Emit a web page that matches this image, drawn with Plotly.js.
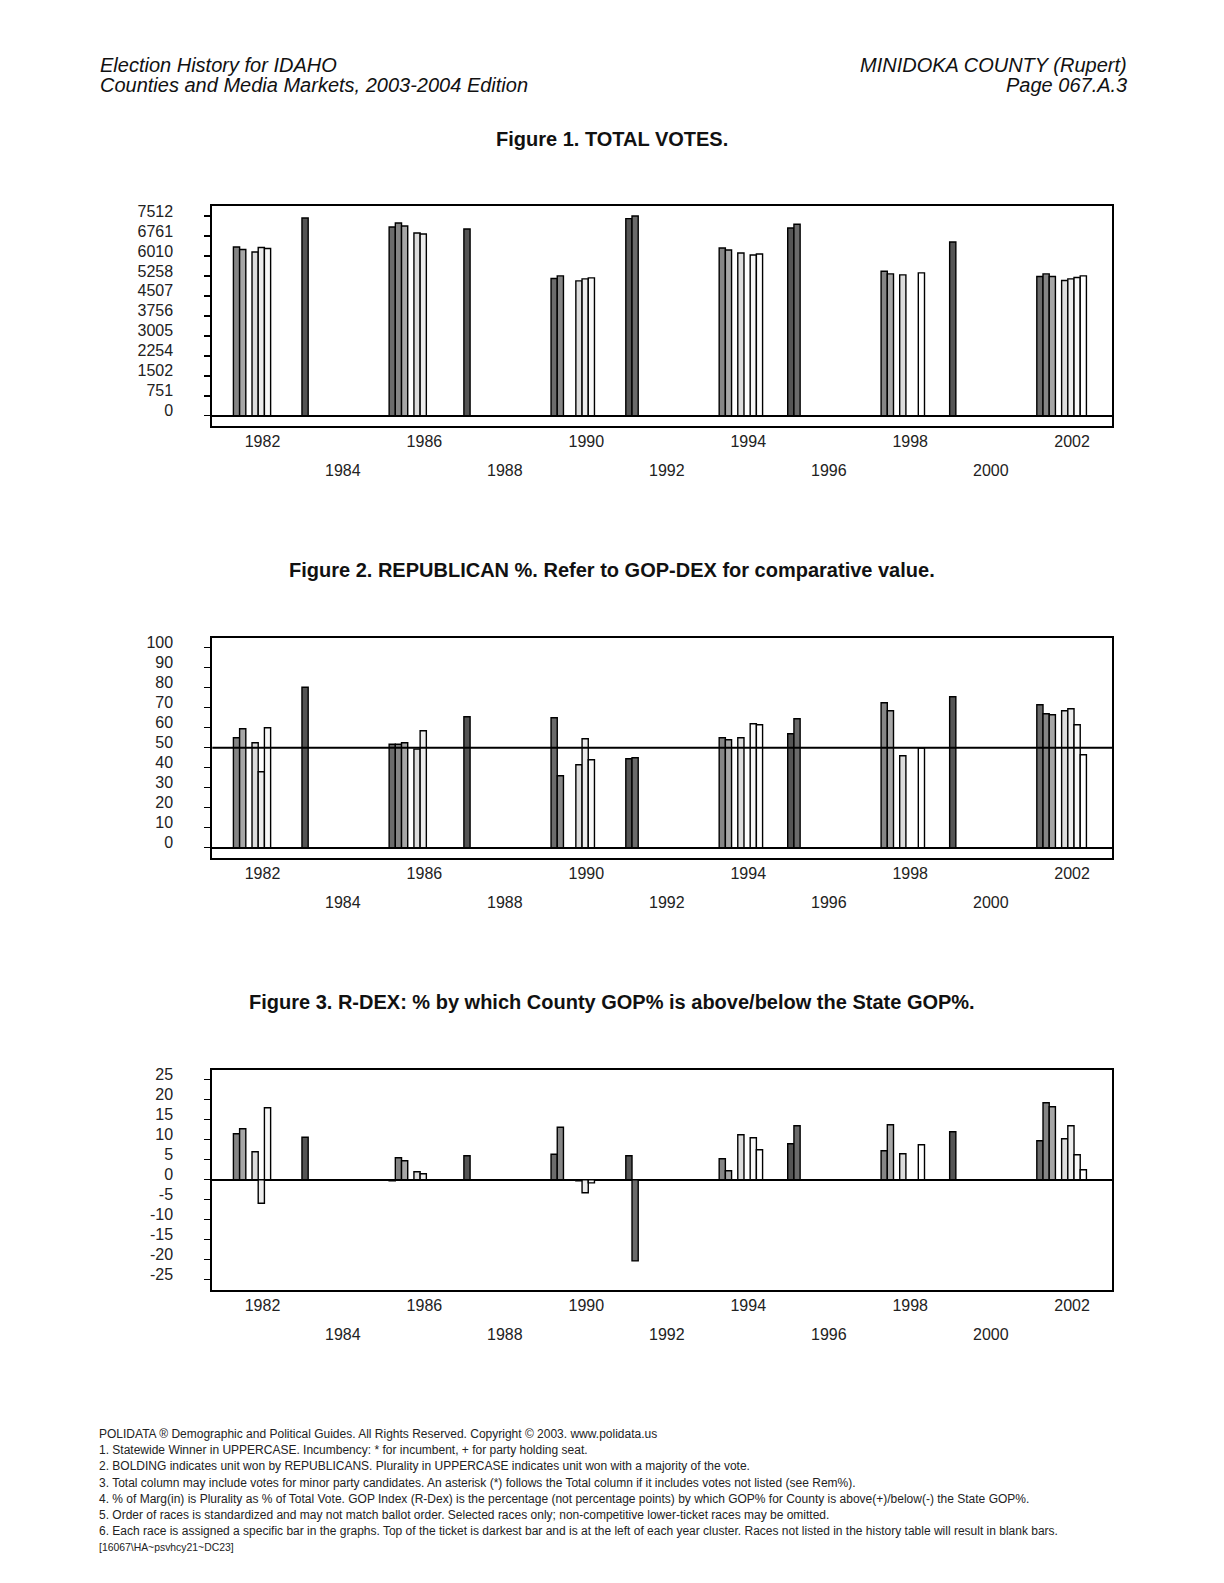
<!DOCTYPE html>
<html><head><meta charset="utf-8">
<script src="https://cdn.plot.ly/plotly-3.0.1.min.js"></script>
<style>html,body{margin:0;padding:0;background:#fff}#chart{width:1224px;height:1583px}</style>
</head><body><div id="chart"></div>
<script>
// ---------- DATA ----------
const years = [1982,1984,1986,1988,1990,1992,1994,1996,1998,2000,2002];
const topRowYears = [1982,1986,1990,1994,1998,2002];
const bottomRowYears = [1984,1988,1992,1996,2000];
const votesTicks = [0,751,1502,2254,3005,3756,4507,5258,6010,6761,7512];
const gopTicks = [0,10,20,30,40,50,60,70,80,90,100];
const rdexTicks = [-25,-20,-15,-10,-5,0,5,10,15,20,25];

// Figure 1: TOTAL VOTES, one array per race slot (darkest = slot 0), aligned to years
const votesSlot0 = [null,7437,null,7024,null,7414,null,7061,null,6535,null];
const votesSlot1 = [null,null,7099,null,5160,7512,null,7200,null,null,5236];
const votesSlot2 = [6348,null,7249,null,5258,null,6310,null,5435,null,5334];
const votesSlot3 = [6250,null,7136,null,null,null,6235,null,5334,null,5236];
const votesSlot4 = [null,null,null,null,null,null,null,null,null,null,null];
const votesSlot5 = [6160,null,6873,null,5071,null,6122,null,5296,null,5086];
const votesSlot6 = [6325,null,6836,null,5146,null,null,null,null,null,5146];
const votesSlot7 = [6287,null,null,null,5183,null,6047,null,null,null,5198];
const votesSlot8 = [null,null,null,null,null,null,6085,null,5371,null,5258];

// Figure 2: REPUBLICAN %
const gopSlot0 = [null,80.2,null,65.5,null,44.5,null,57.0,null,75.5,null];
const gopSlot1 = [null,null,51.7,null,65.0,45.0,null,64.5,null,null,71.5];
const gopSlot2 = [55.0,null,51.7,null,36.0,null,55.0,null,72.5,null,67.0];
const gopSlot3 = [59.5,null,52.5,null,null,null,54.0,null,68.5,null,66.5];
const gopSlot4 = [null,null,null,null,null,null,null,null,null,null,null];
const gopSlot5 = [52.5,null,49.3,null,41.5,null,55.0,null,46.0,null,68.5];
const gopSlot6 = [38.0,null,58.5,null,54.5,null,null,null,null,null,69.5];
const gopSlot7 = [60.0,null,null,null,44.0,null,62.0,null,null,null,61.5];
const gopSlot8 = [null,null,null,null,null,null,61.5,null,49.8,null,46.5];

// Figure 3: R-DEX
const rdexSlot0 = [null,10.6,null,6.0,null,6.0,null,9.0,null,12.0,null];
const rdexSlot1 = [null,null,-0.3,null,6.35,-20.3,null,13.5,null,null,9.75];
const rdexSlot2 = [11.5,null,5.5,null,13.1,null,5.25,null,7.25,null,19.25];
const rdexSlot3 = [12.75,null,4.75,null,null,null,2.25,null,13.75,null,18.25];
const rdexSlot4 = [null,null,null,null,null,null,null,null,null,null,null];
const rdexSlot5 = [7.0,null,2.0,null,-0.3,null,11.25,null,6.5,null,10.25];
const rdexSlot6 = [-5.9,null,1.5,null,-3.25,null,null,null,null,null,13.5];
const rdexSlot7 = [18.0,null,null,null,-0.8,null,10.5,null,null,null,6.25];
const rdexSlot8 = [null,null,null,null,null,null,7.5,null,8.75,null,2.5];

const headerLeft = ["Election History for IDAHO","Counties and Media Markets, 2003-2004 Edition"];
const headerRight = ["MINIDOKA COUNTY (Rupert)","Page 067.A.3"];
const figureTitles = ["Figure 1. TOTAL VOTES.",
  "Figure 2. REPUBLICAN %. Refer to GOP-DEX for comparative value.",
  "Figure 3. R-DEX: % by which County GOP% is above/below the State GOP%."];
const footerLines = [
  "POLIDATA \u00ae Demographic and Political Guides. All Rights Reserved. Copyright \u00a9 2003. www.polidata.us",
  "1. Statewide Winner in UPPERCASE. Incumbency: * for incumbent, + for party holding seat.",
  "2. BOLDING indicates unit won by REPUBLICANS. Plurality in UPPERCASE indicates unit won with a majority of the vote.",
  "3. Total column may include votes for minor party candidates. An asterisk (*) follows the Total column if it includes votes not listed (see Rem%).",
  "4. % of Marg(in) is Plurality as % of Total Vote. GOP Index (R-Dex) is the percentage (not percentage points) by which GOP% for County is above(+)/below(-) the State GOP%.",
  "5. Order of races is standardized and may not match ballot order. Selected races only; non-competitive lower-ticket races may be omitted.",
  "6. Each race is assigned a specific bar in the graphs. Top of the ticket is darkest bar and is at the left of each year cluster. Races not listed in the history table will result in blank bars.",
  "[16067\\HA~psvhcy21~DC23]"
];

// ---------- STYLE / LAYOUT ----------
const W = 1224, H = 1583;
const slotColors = ['#555555','#6b6b6b','#858585','#a6a6a6','#c4c4c4','#dcdcdc','#ececec','#f8f8f8','#ffffff'];
const slotWidth = 0.1532, slotStart = -1.025;
const fontFam = '"Liberation Sans", Arial, Helvetica, sans-serif';
const xPix = [212.3, 1112.3];
const panels = [
  {top:206, bottom:425.7, range:[-375.6,7887.6], ticks:votesTicks,
   slots:[votesSlot0,votesSlot1,votesSlot2,votesSlot3,votesSlot4,votesSlot5,votesSlot6,votesSlot7,votesSlot8]},
  {top:637.7, bottom:857.7, range:[-5,105], ticks:gopTicks,
   slots:[gopSlot0,gopSlot1,gopSlot2,gopSlot3,gopSlot4,gopSlot5,gopSlot6,gopSlot7,gopSlot8]},
  {top:1069.7, bottom:1289.7, range:[-27.5,27.5], ticks:rdexTicks,
   slots:[rdexSlot0,rdexSlot1,rdexSlot2,rdexSlot3,rdexSlot4,rdexSlot5,rdexSlot6,rdexSlot7,rdexSlot8]}
];
const titleY = [138.5, 569.6, 1001.8];
const xRange = [1980.76, 2002.993];
const xDomain = [xPix[0]/W, xPix[1]/W];
const tickFont = {family: fontFam, size: 16, color: '#222'};

const traces = [];
const layout = {
  width: W, height: H, margin: {l:0,r:0,t:0,b:0},
  paper_bgcolor: '#fff', plot_bgcolor: '#fff',
  showlegend: false, barmode: 'overlay', hovermode: false,
  annotations: [], shapes: []
};

panels.forEach((p, i) => {
  const xaName = i === 0 ? 'xaxis' : 'xaxis' + (i + 1);
  const yaName = i === 0 ? 'yaxis' : 'yaxis' + (i + 1);
  const xRef = i === 0 ? 'x' : 'x' + (i + 1);
  const yRef = i === 0 ? 'y' : 'y' + (i + 1);
  const yDomain = [1 - p.bottom/H, 1 - p.top/H];

  p.slots.forEach((vals, k) => {
    traces.push({
      type: 'bar', x: years, y: vals, xaxis: xRef, yaxis: yRef,
      offset: slotStart + slotWidth*k, width: slotWidth,
      marker: {color: slotColors[k], line: {color: '#000', width: 1.4}},
      hoverinfo: 'skip'
    });
  });

  layout[xaName] = {
    domain: xDomain, range: xRange, anchor: yRef,
    showline: true, mirror: true, linewidth: 2, linecolor: '#000',
    showgrid: false, zeroline: false, ticks: '',
    tickmode: 'array', tickvals: topRowYears, ticktext: topRowYears.map(String),
    tickfont: tickFont, ticklabelstandoff: 0, fixedrange: true
  };
  layout[yaName] = {
    domain: yDomain, range: p.range, anchor: xRef,
    showline: true, mirror: true, linewidth: 2, linecolor: '#000',
    showgrid: false, zeroline: true, zerolinewidth: 2, zerolinecolor: '#000',
    ticks: 'outside', ticklen: 6, tickwidth: 1.5, tickcolor: '#000',
    tickmode: 'array', tickvals: p.ticks, ticktext: p.ticks.map(String),
    tickfont: tickFont, ticklabelstandoff: 28, ticklabelshift: -5, fixedrange: true
  };
  // second row of year labels (staggered)
  bottomRowYears.forEach(yr => layout.annotations.push({
    text: String(yr), xref: xRef, yref: 'paper', x: yr, y: 1 - (p.bottom + 45.2)/H,
    xanchor: 'center', yanchor: 'middle', showarrow: false, font: tickFont
  }));
  // title
  layout.annotations.push({
    text: '<b>' + figureTitles[i] + '</b>', xref: 'paper', yref: 'paper',
    x: 612/W, y: 1 - titleY[i]/H, xanchor: 'center', yanchor: 'middle',
    showarrow: false, font: {family: fontFam, size: 20, color: '#111'}
  });
});

// 50% reference line in figure 2
layout.shapes.push({type:'line', xref:'x2 domain', yref:'y2', x0:0, x1:1, y0:50, y1:50,
  line:{color:'#000', width:2}});

// header
headerLeft.forEach((t, j) => layout.annotations.push({
  text: '<i>' + t + '</i>', xref:'paper', yref:'paper', x: 98/W, y: 1 - [64.6, 84.8][j]/H,
  xanchor:'left', yanchor:'middle', showarrow:false, font:{family: fontFam, size: 20, color:'#111'}
}));
headerRight.forEach((t, j) => layout.annotations.push({
  text: '<i>' + t + '</i>', xref:'paper', yref:'paper', x: 1129/W, y: 1 - [64.6, 84.8][j]/H,
  xanchor:'right', yanchor:'middle', showarrow:false, font:{family: fontFam, size: 20, color:'#111'}
}));
// footer
footerLines.forEach((t, j) => layout.annotations.push({
  text: t, xref:'paper', yref:'paper', x: 97/W, y: 1 - (1434 + 16.2*j)/H,
  xanchor:'left', yanchor:'middle', showarrow:false,
  font:{family: fontFam, size: j === 7 ? 10.4 : 12, color:'#222'}
}));

Plotly.newPlot('chart', traces, layout, {staticPlot: true, displayModeBar: false});
</script></body></html>
